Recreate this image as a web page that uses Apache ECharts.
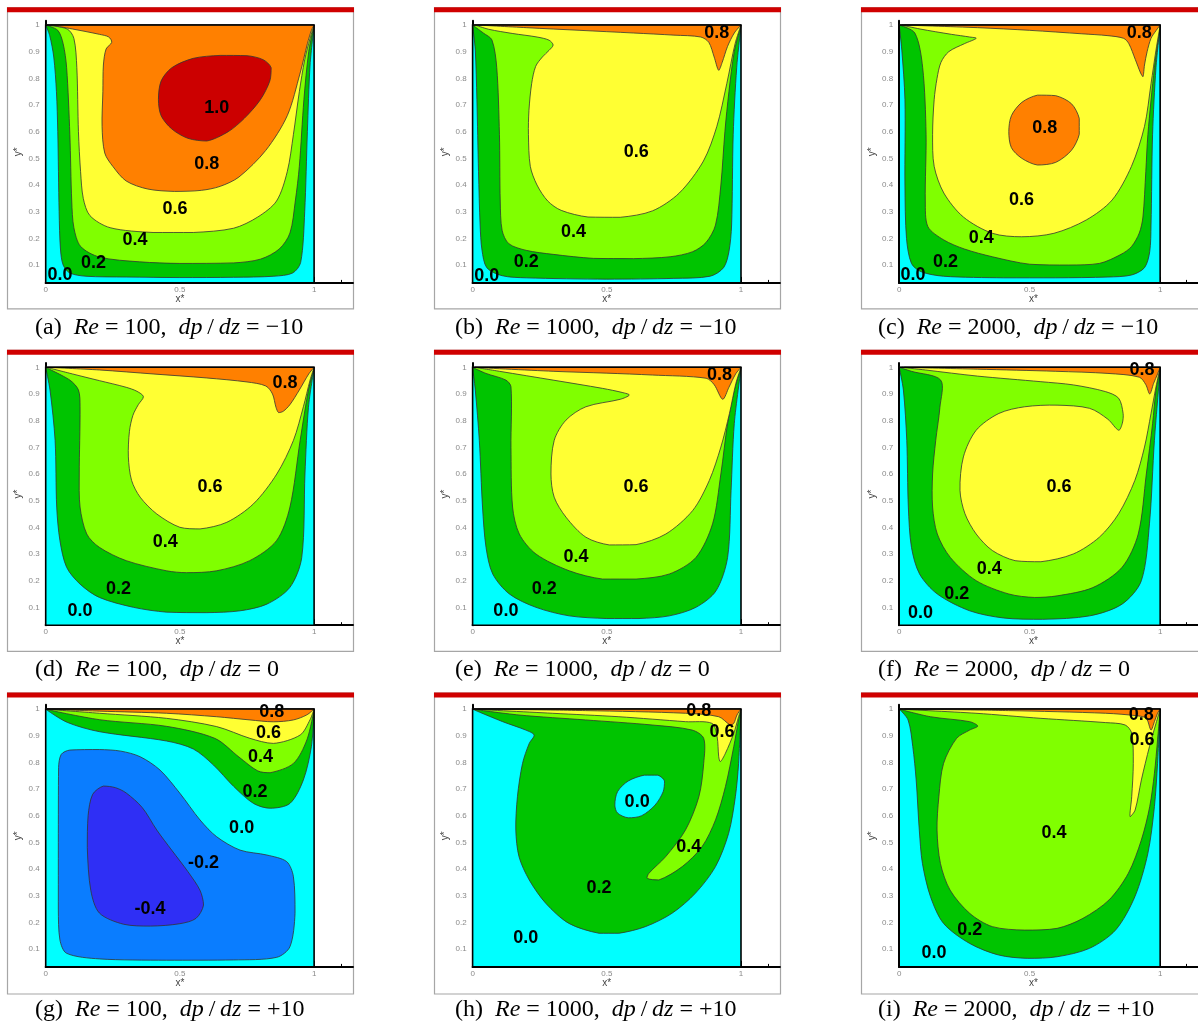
<!DOCTYPE html>
<html><head><meta charset="utf-8">
<script src="https://cdn.jsdelivr.net/npm/echarts@6/dist/echarts.min.js"></script>
<style>html,body{margin:0;padding:0;background:#fff}#c{width:1198px;height:1030px}</style>
</head><body><div id="c"></div>
<script>
// ---------- tick labels ----------
const xTickLabels = [0, 0.5, 1];
const xMinorTicks = [0.1, 0.2, 0.3, 0.4, 0.6, 0.7, 0.8, 0.9, 1.1];
const yTickLabels = [0.1, 0.2, 0.3, 0.4, 0.5, 0.6, 0.7, 0.8, 0.9, 1];
const yMinorTicks = [0.04,0.06,0.08,0.12,0.14,0.16,0.18,0.22,0.24,0.26,0.28,0.32,0.34,0.36,0.38,0.42,0.44,0.46,0.48,0.52,0.54,0.56,0.58,0.62,0.64,0.66,0.68,0.72,0.74,0.76,0.78,0.82,0.84,0.86,0.88,0.92,0.94,0.96,0.98];
const yBottom = 0.033;
const domainBox = [[0, yBottom], [1, yBottom], [1, 1], [0, 1]];

// ---------- captions ----------
const captionIds = ['(a)', '(b)', '(c)', '(d)', '(e)', '(f)', '(g)', '(h)', '(i)'];
const reValues = ['100', '1000', '2000'];
const dpValues = ['\u221210', '0', '+10'];

// ---------- level colours ----------
const levelColors = { m04: '#2f2ff5', m02: '#0a7dff', l00: '#00ffff', l02: '#00c400', l04: '#80ff00', l06: '#ffff33', l08: '#ff8000', l10: '#cc0000' };

// ---------- panel (a) Re=100, dp/dz=-10 ----------
const A_02 = [[0,1],[0.015,0.96],[0.03,0.88],[0.04,0.75],[0.045,0.6],[0.05,0.3],[0.055,0.16],[0.065,0.1],[0.09,0.07],[0.15,0.058],[0.3,0.055],[0.5,0.053],[0.7,0.054],[0.85,0.058],[0.92,0.07],[0.95,0.11],[0.965,0.3],[0.975,0.6],[0.985,0.85],[1,1]];
const A_04 = [[0,1],[0.045,0.98],[0.065,0.93],[0.078,0.84],[0.09,0.59],[0.097,0.34],[0.105,0.24],[0.13,0.17],[0.2,0.13],[0.35,0.112],[0.5,0.106],[0.7,0.108],[0.8,0.122],[0.87,0.16],[0.91,0.22],[0.93,0.34],[0.945,0.47],[0.962,0.72],[0.98,0.9],[1,1]];
const A_06 = [[0,1],[0.08,0.985],[0.105,0.95],[0.116,0.84],[0.122,0.6],[0.13,0.45],[0.14,0.35],[0.165,0.285],[0.24,0.24],[0.4,0.222],[0.55,0.222],[0.7,0.238],[0.79,0.28],[0.86,0.34],[0.9,0.45],[0.923,0.59],[0.945,0.75],[0.965,0.87],[0.985,0.95],[1,1]];
const A_08 = [[0.02,1],[0.1,0.985],[0.2,0.965],[0.235,0.955],[0.246,0.935],[0.225,0.91],[0.215,0.85],[0.213,0.75],[0.21,0.62],[0.22,0.52],[0.25,0.47],[0.3,0.415],[0.38,0.385],[0.48,0.376],[0.58,0.38],[0.65,0.395],[0.72,0.43],[0.82,0.53],[0.9,0.66],[0.948,0.82],[0.975,0.93],[0.99,0.98],[1,1]];
const A_10 = [[0.42,0.72],[0.43,0.79],[0.47,0.84],[0.55,0.875],[0.65,0.886],[0.75,0.885],[0.81,0.87],[0.84,0.84],[0.835,0.79],[0.8,0.72],[0.74,0.65],[0.68,0.6],[0.6,0.565],[0.53,0.575],[0.47,0.61],[0.43,0.66]];
const A_labelPos = [[0.637,0.69],[0.6,0.48],[0.482,0.31],[0.333,0.194],[0.178,0.106],[0.053,0.0625]];
const A_labelText = ['1.0','0.8','0.6','0.4','0.2','0.0'];

// ---------- panel (b) Re=1000, dp/dz=-10 ----------
const B_02 = [[0,1],[0.01,0.906],[0.016,0.72],[0.022,0.45],[0.028,0.25],[0.035,0.156],[0.053,0.09],[0.11,0.06],[0.2,0.052],[0.5,0.047],[0.75,0.05],[0.885,0.058],[0.935,0.09],[0.955,0.15],[0.965,0.25],[0.971,0.59],[0.984,0.84],[1,1]];
const B_04 = [[0,1],[0.04,0.97],[0.072,0.944],[0.09,0.84],[0.1,0.59],[0.103,0.34],[0.11,0.23],[0.135,0.18],[0.2,0.155],[0.3,0.14],[0.45,0.125],[0.6,0.124],[0.736,0.131],[0.82,0.15],[0.87,0.185],[0.905,0.25],[0.925,0.4],[0.94,0.6],[0.955,0.75],[0.975,0.9],[1,1]];
const B_06 = [[0.01,1],[0.06,0.984],[0.15,0.968],[0.24,0.955],[0.285,0.943],[0.3,0.925],[0.285,0.905],[0.26,0.88],[0.235,0.845],[0.22,0.78],[0.21,0.68],[0.208,0.59],[0.215,0.47],[0.24,0.4],[0.28,0.34],[0.33,0.305],[0.43,0.28],[0.55,0.279],[0.67,0.303],[0.77,0.37],[0.86,0.49],[0.91,0.62],[0.947,0.78],[0.978,0.93],[1,1]];
const B_08 = [[0.02,1],[0.2,0.99],[0.4,0.98],[0.6,0.97],[0.75,0.962],[0.85,0.955],[0.88,0.935],[0.9,0.88],[0.917,0.83],[0.93,0.86],[0.95,0.92],[0.975,0.97],[1,1]];
const B_labelPos = [[0.91,0.97],[0.61,0.525],[0.376,0.225],[0.2,0.11],[0.053,0.06]];
const B_labelText = ['0.8','0.6','0.4','0.2','0.0'];

// ---------- panel (c) Re=2000, dp/dz=-10 ----------
const C_02 = [[0,1],[0.01,0.906],[0.022,0.72],[0.022,0.4],[0.028,0.2],[0.047,0.106],[0.084,0.075],[0.17,0.058],[0.4,0.052],[0.6,0.052],[0.8,0.055],[0.89,0.0625],[0.94,0.09],[0.96,0.15],[0.965,0.25],[0.971,0.59],[0.984,0.84],[1,1]];
const C_04 = [[0,1],[0.06,0.97],[0.09,0.84],[0.103,0.59],[0.1,0.34],[0.11,0.244],[0.171,0.194],[0.25,0.16],[0.357,0.131],[0.5,0.103],[0.65,0.1],[0.767,0.106],[0.85,0.14],[0.89,0.169],[0.92,0.22],[0.934,0.28],[0.945,0.45],[0.953,0.59],[0.978,0.84],[1,1]];
const C_06 = [[0.01,1],[0.08,0.985],[0.2,0.965],[0.27,0.955],[0.295,0.95],[0.25,0.93],[0.19,0.9],[0.16,0.86],[0.145,0.8],[0.134,0.72],[0.128,0.59],[0.134,0.47],[0.171,0.37],[0.246,0.28],[0.357,0.219],[0.469,0.206],[0.593,0.219],[0.717,0.269],[0.816,0.344],[0.89,0.47],[0.94,0.62],[0.965,0.78],[0.984,0.906],[1,1]];
const C_08a = [[0.02,1],[0.3,0.99],[0.5,0.98],[0.7,0.967],[0.8,0.96],[0.86,0.95],[0.88,0.93],[0.905,0.87],[0.925,0.82],[0.934,0.806],[0.94,0.85],[0.95,0.9],[0.965,0.95],[0.985,0.98],[1,1]];
const C_08b = [[0.42,0.6],[0.43,0.66],[0.47,0.71],[0.53,0.737],[0.6,0.735],[0.66,0.705],[0.69,0.65],[0.69,0.59],[0.66,0.53],[0.6,0.485],[0.53,0.475],[0.47,0.5],[0.43,0.54]];
const C_labelPos = [[0.92,0.97],[0.558,0.6125],[0.469,0.344],[0.314,0.2],[0.177,0.1125],[0.053,0.0625]];
const C_labelText = ['0.8','0.8','0.6','0.4','0.2','0.0'];

// ---------- panel (d) Re=100, dp/dz=0 ----------
const D_02 = [[0,1],[0.016,0.915],[0.035,0.726],[0.041,0.476],[0.053,0.35],[0.078,0.25],[0.128,0.187],[0.2,0.137],[0.327,0.1],[0.45,0.082],[0.6,0.08],[0.724,0.087],[0.824,0.112],[0.91,0.175],[0.954,0.287],[0.966,0.6],[0.979,0.85],[1,1]];
const D_04 = [[0,1],[0.09,0.952],[0.122,0.915],[0.128,0.852],[0.125,0.6],[0.128,0.476],[0.153,0.375],[0.2,0.325],[0.3,0.275],[0.45,0.237],[0.525,0.23],[0.637,0.237],[0.76,0.275],[0.86,0.35],[0.91,0.476],[0.948,0.726],[0.979,0.915],[1,1]];
const D_06 = [[0.005,1],[0.1,0.975],[0.2,0.95],[0.3,0.925],[0.34,0.91],[0.364,0.89],[0.345,0.86],[0.325,0.82],[0.312,0.76],[0.308,0.664],[0.32,0.576],[0.352,0.513],[0.414,0.45],[0.5,0.4],[0.575,0.394],[0.675,0.419],[0.774,0.488],[0.861,0.6],[0.923,0.726],[0.96,0.852],[0.985,0.952],[1,1]];
const D_08 = [[0.01,1],[0.2,0.99],[0.4,0.975],[0.6,0.96],[0.75,0.945],[0.82,0.93],[0.845,0.9],[0.858,0.85],[0.868,0.83],[0.885,0.835],[0.91,0.86],[0.945,0.915],[0.98,0.975],[1,1]];
const D_labelPos = [[0.892,0.942],[0.612,0.55],[0.445,0.344],[0.271,0.168],[0.128,0.087]];
const D_labelText = ['0.8','0.6','0.4','0.2','0.0'];

// ---------- panel (e) Re=1000, dp/dz=0 ----------
const E_02 = [[0,1],[0.01,0.915],[0.025,0.726],[0.037,0.476],[0.05,0.325],[0.075,0.225],[0.137,0.15],[0.236,0.1],[0.36,0.068],[0.5,0.058],[0.62,0.058],[0.733,0.068],[0.832,0.1],[0.907,0.162],[0.95,0.287],[0.963,0.537],[0.975,0.789],[1,1]];
const E_04 = [[0,1],[0.05,0.977],[0.124,0.952],[0.143,0.927],[0.143,0.7],[0.149,0.476],[0.174,0.375],[0.236,0.3],[0.36,0.237],[0.484,0.206],[0.609,0.206],[0.733,0.225],[0.832,0.287],[0.894,0.413],[0.925,0.6],[0.95,0.789],[0.975,0.915],[1,1]];
const E_06 = [[0.01,1],[0.1,0.985],[0.3,0.952],[0.484,0.921],[0.56,0.905],[0.584,0.896],[0.55,0.88],[0.422,0.852],[0.348,0.802],[0.304,0.726],[0.292,0.6],[0.304,0.513],[0.348,0.438],[0.422,0.363],[0.509,0.334],[0.609,0.335],[0.72,0.375],[0.82,0.463],[0.882,0.576],[0.925,0.701],[0.957,0.827],[0.981,0.94],[1,1]];
const E_08 = [[0.01,1],[0.3,0.985],[0.5,0.978],[0.67,0.971],[0.87,0.959],[0.9,0.935],[0.932,0.88],[0.955,0.925],[0.98,0.975],[1,1]];
const E_labelPos = [[0.92,0.971],[0.609,0.551],[0.385,0.287],[0.267,0.168],[0.124,0.087]];
const E_labelText = ['0.8','0.6','0.4','0.2','0.0'];

// ---------- panel (f) Re=2000, dp/dz=0 ----------
const F_02 = [[0,1],[0.016,0.915],[0.029,0.726],[0.035,0.476],[0.047,0.325],[0.078,0.225],[0.146,0.15],[0.27,0.087],[0.4,0.06],[0.55,0.055],[0.73,0.068],[0.854,0.112],[0.928,0.2],[0.959,0.413],[0.978,0.726],[1,1]];
const F_04 = [[0,1],[0.047,0.985],[0.159,0.952],[0.156,0.85],[0.14,0.726],[0.128,0.6],[0.128,0.476],[0.146,0.375],[0.196,0.287],[0.295,0.2],[0.42,0.15],[0.519,0.137],[0.605,0.143],[0.742,0.174],[0.854,0.25],[0.916,0.375],[0.947,0.6],[0.971,0.789],[0.984,0.915],[1,1]];
const F_06 = [[0.01,1],[0.1,0.99],[0.3,0.967],[0.543,0.946],[0.667,0.934],[0.79,0.909],[0.841,0.884],[0.858,0.827],[0.855,0.79],[0.841,0.764],[0.8,0.805],[0.73,0.846],[0.605,0.858],[0.481,0.852],[0.382,0.827],[0.295,0.764],[0.246,0.664],[0.233,0.539],[0.252,0.451],[0.295,0.375],[0.357,0.313],[0.444,0.275],[0.543,0.271],[0.667,0.3],[0.767,0.363],[0.841,0.451],[0.903,0.576],[0.94,0.701],[0.965,0.827],[0.984,0.927],[1,1]];
const F_08 = [[0.02,1],[0.3,0.993],[0.6,0.985],[0.8,0.977],[0.92,0.963],[0.945,0.935],[0.96,0.9],[0.975,0.94],[0.99,0.975],[1,1]];
const F_labelPos = [[0.93,0.988],[0.612,0.551],[0.345,0.243],[0.221,0.149],[0.082,0.08]];
const F_labelText = ['0.8','0.6','0.4','0.2','0.0'];

// ---------- panel (g) Re=100, dp/dz=+10 ----------
const G_m02 = [[0.047,0.5],[0.048,0.78],[0.058,0.83],[0.09,0.846],[0.2,0.848],[0.28,0.842],[0.352,0.821],[0.426,0.771],[0.5,0.684],[0.575,0.584],[0.637,0.521],[0.724,0.471],[0.824,0.4525],[0.898,0.4275],[0.923,0.371],[0.929,0.234],[0.91,0.109],[0.861,0.069],[0.7,0.059],[0.45,0.058],[0.2,0.063],[0.078,0.084],[0.053,0.134],[0.047,0.25]];
const G_m04 = [[0.155,0.48],[0.158,0.6],[0.175,0.68],[0.215,0.711],[0.26,0.705],[0.3,0.685],[0.36,0.63],[0.414,0.546],[0.47,0.47],[0.53,0.39],[0.575,0.32],[0.588,0.265],[0.56,0.215],[0.5,0.195],[0.39,0.186],[0.29,0.193],[0.2,0.235],[0.168,0.32]];
const G_02 = [[0,1],[0.08,0.95],[0.2,0.915],[0.45,0.88],[0.55,0.85],[0.625,0.79],[0.7,0.71],[0.774,0.646],[0.836,0.628],[0.91,0.646],[0.96,0.734],[0.99,0.86],[1,1]];
const G_04 = [[0,1],[0.2,0.96],[0.45,0.935],[0.63,0.89],[0.72,0.82],[0.79,0.768],[0.836,0.761],[0.923,0.796],[0.973,0.884],[1,1]];
const G_06 = [[0,1],[0.2,0.984],[0.45,0.965],[0.637,0.934],[0.761,0.89],[0.848,0.871],[0.948,0.9025],[0.985,0.96],[1,1]];
const G_08 = [[0,1],[0.2,0.992],[0.45,0.984],[0.637,0.971],[0.761,0.959],[0.848,0.952],[0.923,0.959],[0.973,0.978],[1,1]];
const G_labelPos = [[0.842,0.9875],[0.83,0.909],[0.8,0.819],[0.78,0.69],[0.73,0.5525],[0.588,0.421],[0.389,0.249]];
const G_labelText = ['0.8','0.6','0.4','0.2','0.0','-0.2','-0.4'];

// ---------- panel (h) Re=1000, dp/dz=+10 ----------
const H_02 = [[0,1],[0.112,0.9525],[0.198,0.921],[0.229,0.9025],[0.211,0.871],[0.186,0.796],[0.167,0.671],[0.161,0.546],[0.173,0.446],[0.211,0.359],[0.273,0.271],[0.359,0.196],[0.471,0.159],[0.545,0.159],[0.644,0.184],[0.743,0.234],[0.83,0.309],[0.905,0.409],[0.954,0.534],[0.979,0.671],[0.991,0.796],[1,1]];
const H_00 = [[0.53,0.64],[0.54,0.69],[0.58,0.73],[0.64,0.752],[0.69,0.752],[0.715,0.73],[0.71,0.69],[0.68,0.64],[0.63,0.6],[0.58,0.592],[0.54,0.61]];
const H_04 = [[0,1],[0.173,0.9775],[0.421,0.959],[0.669,0.94],[0.818,0.921],[0.861,0.89],[0.861,0.796],[0.843,0.671],[0.793,0.546],[0.719,0.446],[0.657,0.384],[0.651,0.365],[0.694,0.359],[0.781,0.409],[0.855,0.484],[0.905,0.584],[0.942,0.709],[0.973,0.859],[0.991,0.959],[1,1]];
const H_06 = [[0,1],[0.297,0.984],[0.545,0.971],[0.793,0.9525],[0.892,0.946],[0.911,0.896],[0.917,0.821],[0.923,0.8025],[0.942,0.834],[0.973,0.909],[0.991,0.971],[1,1]];
const H_08 = [[0.02,1],[0.421,0.994],[0.793,0.984],[0.917,0.971],[0.96,0.94],[0.973,0.946],[0.985,0.9775],[1,1]];
const H_labelPos = [[0.843,0.993],[0.929,0.915],[0.613,0.6525],[0.805,0.484],[0.471,0.3275],[0.198,0.14]];
const H_labelText = ['0.8','0.6','0.0','0.4','0.2','0.0'];

// ---------- panel (i) Re=2000, dp/dz=+10 ----------
const I_02 = [[0,1],[0.034,0.959],[0.052,0.859],[0.065,0.734],[0.077,0.546],[0.089,0.421],[0.12,0.296],[0.17,0.196],[0.27,0.121],[0.381,0.0775],[0.493,0.065],[0.605,0.071],[0.729,0.1025],[0.829,0.171],[0.903,0.296],[0.953,0.459],[0.978,0.634],[0.99,0.796],[1,1]];
const I_04 = [[0,1],[0.12,0.971],[0.27,0.9525],[0.301,0.936],[0.27,0.921],[0.22,0.89],[0.17,0.796],[0.152,0.671],[0.145,0.546],[0.158,0.421],[0.195,0.321],[0.27,0.234],[0.357,0.184],[0.481,0.171],[0.605,0.1775],[0.704,0.215],[0.804,0.284],[0.878,0.384],[0.928,0.509],[0.96,0.634],[0.978,0.759],[0.99,0.884],[1,1]];
const I_06 = [[0,1],[0.294,0.984],[0.543,0.965],[0.791,0.949],[0.866,0.94],[0.891,0.909],[0.897,0.796],[0.891,0.671],[0.885,0.596],[0.904,0.621],[0.928,0.734],[0.959,0.859],[0.984,0.946],[1,1]];
const I_08 = [[0.02,1],[0.419,0.994],[0.791,0.984],[0.916,0.974],[0.947,0.965],[0.965,0.921],[0.978,0.9525],[0.99,0.984],[1,1]];
const I_labelPos = [[0.928,0.9775],[0.93,0.884],[0.593,0.534],[0.27,0.171],[0.133,0.084]];
const I_labelText = ['0.8','0.6','0.4','0.2','0.0'];

// ---------- assemble ----------
const panelLayers = [
  [['l02', A_02], ['l04', A_04], ['l06', A_06], ['l08', A_08], ['l10', A_10]],
  [['l02', B_02], ['l04', B_04], ['l06', B_06], ['l08', B_08]],
  [['l02', C_02], ['l04', C_04], ['l06', C_06], ['l08', C_08a], ['l08', C_08b]],
  [['l02', D_02], ['l04', D_04], ['l06', D_06], ['l08', D_08]],
  [['l02', E_02], ['l04', E_04], ['l06', E_06], ['l08', E_08]],
  [['l02', F_02], ['l04', F_04], ['l06', F_06], ['l08', F_08]],
  [['m02', G_m02], ['m04', G_m04], ['l02', G_02], ['l04', G_04], ['l06', G_06], ['l08', G_08]],
  [['l02', H_02], ['l00', H_00], ['l04', H_04], ['l06', H_06], ['l08', H_08]],
  [['l02', I_02], ['l04', I_04], ['l06', I_06], ['l08', I_08]]
];
const panelLabelPos = [A_labelPos, B_labelPos, C_labelPos, D_labelPos, E_labelPos, F_labelPos, G_labelPos, H_labelPos, I_labelPos];
const panelLabelText = [A_labelText, B_labelText, C_labelText, D_labelText, E_labelText, F_labelText, G_labelText, H_labelText, I_labelText];

// layout
const colX0 = [45.7, 472.6, 899.2];
const rowTop = [25, 367.3, 709];
const unitX = 268.4, unitY = 266.7;
const xMax = 1.145, yMax = 1.016;
const frameLeft = [7, 434, 861];
const barTop = [7.3, 349.8, 692.5];
const capLeft = [35, 455, 878];
const capY = [328, 670, 1010];

const grids = [], xAxes = [], yAxes = [], series = [], graphics = [];
const axisFont = 'Liberation Sans';

for (let i = 0; i < 9; i++) {
  const col = i % 3, row = Math.floor(i / 3);
  grids.push({ left: colX0[col], top: rowTop[row] - (yMax - 1) * unitY, width: xMax * unitX, height: (yMax - yBottom) * unitY });
}
for (let i = 0; i < 9; i++) {
  xAxes.push({ gridIndex: i, type: 'value', position: 'bottom', min: 0, max: xMax,
    axisLine: { show: true, onZero: false, lineStyle: { color: '#000', width: 2 } },
    axisTick: { show: true, inside: true, length: 6, customValues: xTickLabels, lineStyle: { color: '#000', width: 1 } },
    axisLabel: { show: true, customValues: xTickLabels, color: '#8a8a8a', fontSize: 8, margin: 3, fontFamily: axisFont },
    splitLine: { show: false } });
}
for (let i = 0; i < 9; i++) {
  xAxes.push({ gridIndex: i, type: 'value', position: 'bottom', min: 0, max: xMax,
    axisLine: { show: false },
    axisTick: { show: true, inside: true, length: 3, customValues: xMinorTicks, lineStyle: { color: '#000', width: 1 } },
    axisLabel: { show: false }, splitLine: { show: false } });
}
for (let i = 0; i < 9; i++) {
  yAxes.push({ gridIndex: i, type: 'value', position: 'left', min: yBottom, max: yMax,
    axisLine: { show: true, onZero: false, lineStyle: { color: '#000', width: 2 } },
    axisTick: { show: true, inside: true, length: 5, customValues: yTickLabels, lineStyle: { color: '#000', width: 1 } },
    axisLabel: { show: true, customValues: yTickLabels, color: '#8a8a8a', fontSize: 8, margin: 6, fontFamily: axisFont },
    splitLine: { show: false },
    name: 'y*', nameLocation: 'middle', nameGap: 22, nameRotate: 90,
    nameTextStyle: { fontSize: 10, color: '#444', fontFamily: axisFont } });
}
for (let i = 0; i < 9; i++) {
  yAxes.push({ gridIndex: i, type: 'value', position: 'left', min: yBottom, max: yMax,
    axisLine: { show: false },
    axisTick: { show: true, inside: true, length: 3, customValues: yMinorTicks, lineStyle: { color: '#000', width: 1 } },
    axisLabel: { show: false }, splitLine: { show: false } });
}

function polySeries(gi, pts, fill, stroke, z, smooth) {
  return {
    type: 'custom', xAxisIndex: gi, yAxisIndex: gi, z: z, silent: true, animation: false,
    data: pts,
    renderItem: function (params, api) {
      if (params.dataIndex !== 0) return null;
      const P = pts.map(function (p) { return api.coord(p); });
      return { type: 'polygon',
        shape: { points: P, smooth: smooth, smoothConstraint: [[Infinity, Infinity], [-Infinity, -Infinity]] },
        style: { fill: fill, stroke: stroke, lineWidth: stroke === 'none' ? 0 : 0.8 } };
    }
  };
}

for (let i = 0; i < 9; i++) {
  series.push(polySeries(i, domainBox, levelColors.l00, 'none', 2, 0));
  panelLayers[i].forEach(function (layer, k) {
    series.push(polySeries(i, layer[1], levelColors[layer[0]], '#333333', 3 + k, 0.3));
  });
  // domain outline
  series.push({
    type: 'custom', xAxisIndex: i, yAxisIndex: i, z: 20, silent: true, animation: false,
    data: domainBox,
    renderItem: function (params, api) {
      if (params.dataIndex !== 0) return null;
      return { type: 'polygon', shape: { points: domainBox.map(function (p) { return api.coord(p); }) },
        style: { fill: 'none', stroke: '#000', lineWidth: 1.6 } };
    }
  });
  const texts = panelLabelText[i];
  series.push({
    type: 'custom', xAxisIndex: i, yAxisIndex: i, z: 30, silent: true, animation: false,
    data: panelLabelPos[i],
    renderItem: function (params, api) {
      const c = api.coord([api.value(0), api.value(1)]);
      return { type: 'text', x: c[0], y: c[1],
        style: { text: texts[params.dataIndex], fill: '#000', font: 'bold 18px "Liberation Sans", Arial, sans-serif',
          align: 'center', verticalAlign: 'middle', textAlign: 'center', textVerticalAlign: 'middle' } };
    }
  });
}

// frames, red bars, x* names, captions
for (let i = 0; i < 9; i++) {
  const col = i % 3, row = Math.floor(i / 3);
  graphics.push({ type: 'rect', silent: true, z: 0,
    shape: { x: frameLeft[col] + 0.5, y: barTop[row] + 0.5, width: 346, height: 301 },
    style: { fill: '#fff', stroke: '#a6a6a6', lineWidth: 1.2 } });
  graphics.push({ type: 'rect', silent: true, z: 1,
    shape: { x: frameLeft[col], y: barTop[row], width: 347, height: 5 },
    style: { fill: '#d00000' } });
  graphics.push({ type: 'text', silent: true, z: 5,
    x: colX0[col] + 0.5 * unitX, y: rowTop[row] + (1 - yBottom) * unitY + 16,
    style: { text: 'x*', fill: '#444', font: '10px "Liberation Sans"', align: 'center', verticalAlign: 'middle' } });
  graphics.push({ type: 'text', silent: true, z: 5,
    x: capLeft[col], y: capY[row],
    style: { text: captionIds[i] + '  {i|Re} = ' + reValues[col] + ',  {i|dp}\u2009/\u2009{i|dz} = ' + dpValues[row],
      fill: '#000', font: '24px "Liberation Serif"', align: 'left', verticalAlign: 'middle',
      rich: { i: { fontStyle: 'italic', fontFamily: 'Liberation Serif', fontSize: 24, fill: '#000' } } } });
}

const chart = echarts.init(document.getElementById('c'), null, { renderer: 'canvas' });
chart.setOption({
  animation: false,
  backgroundColor: '#ffffff',
  grid: grids, xAxis: xAxes, yAxis: yAxes, series: series,
  graphic: { elements: graphics }
});
</script></body></html>
